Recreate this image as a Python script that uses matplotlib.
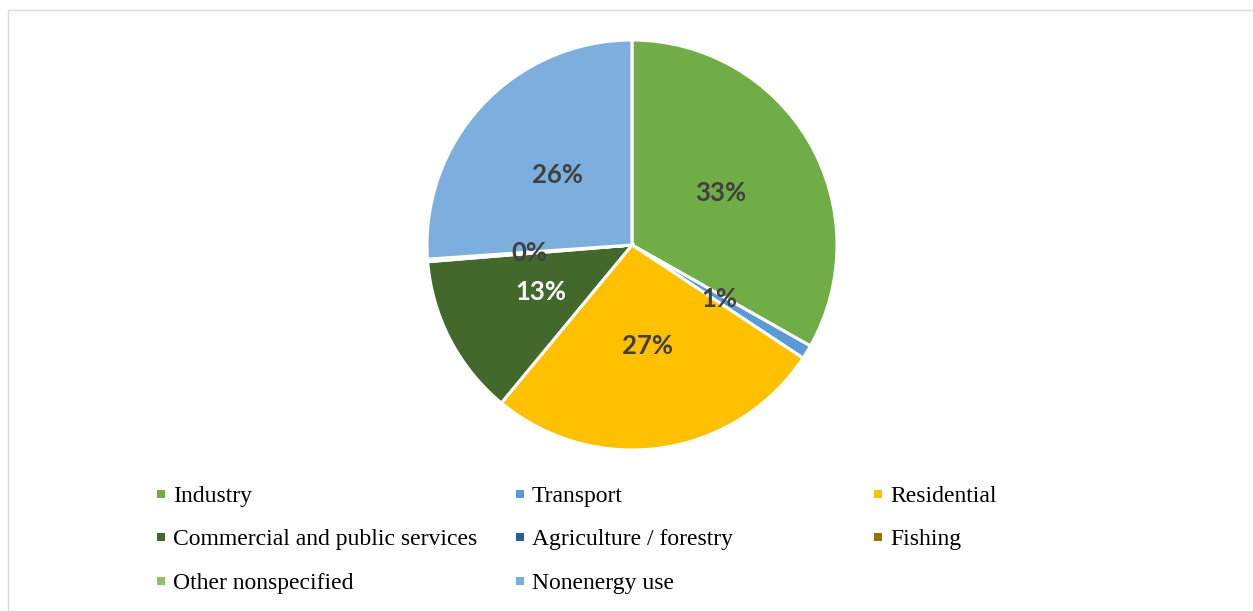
import matplotlib
matplotlib.use("Agg")
import matplotlib.pyplot as plt
from matplotlib.patches import Rectangle
import numpy as np

# Final energy consumption by sector (share, %)
sectors = ["Industry", "Transport", "Residential", "Commercial and public services",
           "Agriculture / forestry", "Fishing", "Other nonspecified", "Nonenergy use"]
shares = [33.2, 1.1, 26.7, 12.7, 0.2, 0.0, 0.0, 26.1]
colors = ["#70AD47", "#5B9BD5", "#FFC000", "#43682B",
          "#255E91", "#9E7000", "#8CC168", "#7CAFDD"]
label_colors = ["#404040", "#404040", "#404040", "#FFFFFF",
                "#404040", "#404040", "#404040", "#404040"]
show_label = [True, True, True, True, True, False, False, True]

W, H = 1253, 611
fig = plt.figure(figsize=(W / 100, H / 100), dpi=100)
fig.patch.set_facecolor("white")

# chart area outline
fig.add_artist(Rectangle((7.5 / W, -0.1), 1.2, 1 - 9.5 / H + 0.1,
                         transform=fig.transFigure, fill=False,
                         edgecolor="#D9D9D9", linewidth=1.0))

cx, cy, r = 632, 245, 205
ax = fig.add_axes([(cx - r) / W, (H - cy - r) / H, 2 * r / W, 2 * r / H])
wedges, _ = ax.pie(shares, colors=colors, startangle=90, counterclock=False,
                   radius=1.0,
                   wedgeprops=dict(edgecolor="white", linewidth=2.2))
ax.set_xlim(-1, 1)
ax.set_ylim(-1, 1)
ax.set_aspect("equal")
ax.axis("off")

total = sum(shares)
angle = 90.0
for val, col, show in zip(shares, label_colors, show_label):
    span = val / total * 360.0
    mid = np.deg2rad(angle - span / 2)
    angle -= span
    if not show:
        continue
    ax.text(0.5 * np.cos(mid), 0.5 * np.sin(mid), f"{round(val)}%",
            ha="center", va="center", fontsize=18.5, fontweight="bold",
            color=col, family=["Lato", "DejaVu Sans"])

# legend, three entries per row
col_x = [161, 520, 878]
row_base = [502, 545, 589]
for i, (name, c) in enumerate(zip(sectors, colors)):
    row, col = divmod(i, 3)
    x, yb = col_x[col], row_base[row]
    fig.add_artist(Rectangle(((x - 4) / W, (H - yb + 4) / H), 8 / W, 8 / H,
                             transform=fig.transFigure, facecolor=c,
                             edgecolor="none"))
    fig.text((x + 12) / W, (H - yb) / H, name, ha="left", va="baseline",
             fontsize=17, family="Liberation Serif", color="#000000")

fig.savefig("out.png", dpi=100, facecolor="white")
